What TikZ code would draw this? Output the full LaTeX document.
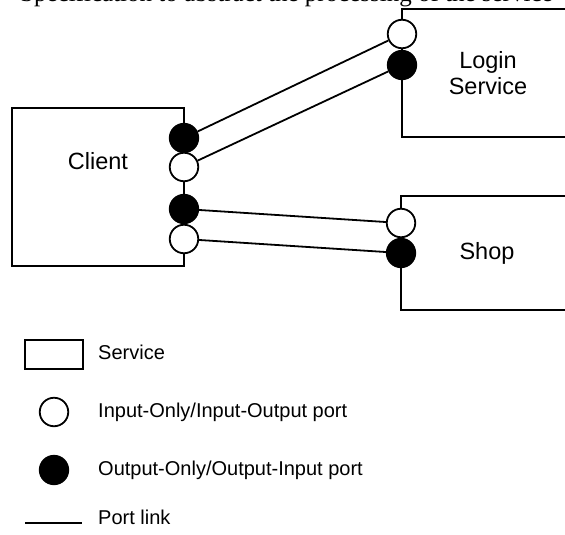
\documentclass[tikz,border=0pt]{standalone}
\usepackage{fontspec}
\setmainfont{Liberation Serif}
\setsansfont{Liberation Sans}
\begin{document}
\begin{tikzpicture}[x=1pt,y=-1pt,
  every node/.style={font=\sffamily},
  bigtext/.style={font=\sffamily\fontsize{23.5}{26}\selectfont},
  legtext/.style={anchor=west,inner sep=0pt,font=\sffamily\fontsize{20}{24}\selectfont},
  svcbox/.style={draw,line width=1.8pt,fill=white,inner sep=0pt},
  inport/.style={circle,draw,line width=1.8pt,fill=white,minimum size=28.5pt,inner sep=0pt},
  outport/.style={circle,draw,line width=1.8pt,fill=black,minimum size=28.5pt,inner sep=0pt},
  portlink/.style={line width=1.8pt}]
\useasboundingbox (0,0) rectangle (565,535);

% running text line cut off at the top edge
\begin{scope}
  \clip (0,0) rectangle (565,535);
  \node[anchor=base west,inner sep=0pt,font=\rmfamily\fontsize{25}{29}\selectfont] (runtext) at (20,1.8)
    {Specification to abstract the processing of the service};
\end{scope}

% services
\node[svcbox,minimum width=172pt,minimum height=158pt] (client) at (98,187) {};
\node[bigtext] (clientname) at (98,161) {Client};
\node[svcbox,bigtext,align=center,minimum width=172pt,minimum height=128pt] (login) at (488,73) {Login\\Service};
\node[svcbox,bigtext,minimum width=172pt,minimum height=114pt] (shop) at (487,253) {Shop};

% ports
\node[outport] (c1) at (184,138) {};
\node[inport]  (c2) at (184,167) {};
\node[outport] (c3) at (184,209) {};
\node[inport]  (c4) at (184,239) {};
\node[inport]  (l1) at (402,34) {};
\node[outport] (l2) at (402,65) {};
\node[inport]  (s1) at (401,223) {};
\node[outport] (s2) at (401,253) {};

% port links
\draw[portlink] (c1) -- (l1);
\draw[portlink] (c2) -- (l2);
\draw[portlink] (c3) -- (s1);
\draw[portlink] (c4) -- (s2);

% legend
\node[svcbox,minimum width=58pt,minimum height=29pt] (legsvc) at (54,354.5) {};
\node[legtext] (legsvctext) at (98,352) {Service};
\node[inport] (legin) at (54,412) {};
\node[legtext] (legintext) at (98,412) {Input-Only/Input-Output port};
\node[outport] (legout) at (54,470) {};
\node[legtext] (legouttext) at (98,470) {Output-Only/Output-Input port};
\coordinate (linka) at (25,523);
\coordinate (linkb) at (82,523);
\draw[portlink] (linka) -- (linkb);
\node[legtext] (legline) at (98,517) {Port link};
\end{tikzpicture}
\end{document}
